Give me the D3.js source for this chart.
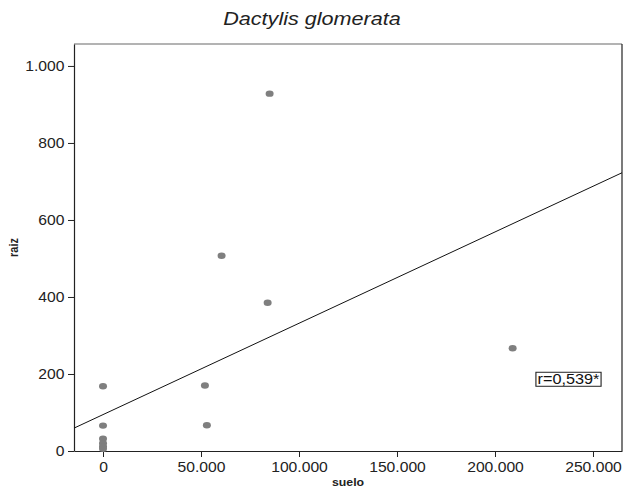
<!DOCTYPE html>
<html>
<head>
<meta charset="utf-8">
<script src="https://cdn.jsdelivr.net/npm/d3@7"></script>
<style>
  html, body { margin: 0; padding: 0; background: #fff; }
  svg { display: block; font-family: "Liberation Sans", Arial, sans-serif; }
</style>
</head>
<body>
<svg id="chart" width="625" height="490"></svg>
<script>
// Data
const suelo = [0, 0, 0, 0, 0, 0, 52000, 53000, 60500, 84000, 85000, 209000];
const raiz  = [168, 66, 32, 20, 12, 6, 170, 67, 507, 385, 928, 267];
const xTicks = [0, 50000, 100000, 150000, 200000, 250000];
const yTicks = [0, 200, 400, 600, 800, 1000];
const fitIntercept = 94.5;     // regression line intercept
const fitSlope = 0.002372;     // regression line slope
const rLabel = "r=0,539*";
const title = "Dactylis glomerata";
const xLabel = "suelo";
const yLabel = "raiz";

const SX = 1.12; // horizontal stretch of text seen in the reference
const svg = d3.select("#chart");
const m = { left: 74, right: 3, top: 44, bottom: 39 };
const W = 625, H = 490;

const x = d3.scaleLinear().domain([-14800, 264800]).range([m.left, W - m.right]);
const y = d3.scaleLinear().domain([0, 1057]).range([H - m.bottom, m.top]);

const fmt = v => d3.format(",")(v).replace(/,/g, ".");

// Frame: top gray, right dark
svg.append("line")
  .attr("x1", x.range()[0]).attr("x2", x.range()[1])
  .attr("y1", y.range()[1]).attr("y2", y.range()[1])
  .attr("stroke", "#9a9a9a").attr("stroke-width", 1.5);
svg.append("line")
  .attr("x1", x.range()[1]).attr("x2", x.range()[1])
  .attr("y1", y.range()[1]).attr("y2", y.range()[0])
  .attr("stroke", "#222").attr("stroke-width", 1.2);

// Axes
const xAxis = svg.append("g")
  .attr("transform", `translate(0,${y.range()[0]})`)
  .call(d3.axisBottom(x).tickValues(xTicks).tickFormat(fmt).tickSize(6).tickSizeOuter(0));
const yAxis = svg.append("g")
  .attr("transform", `translate(${x.range()[0]},0)`)
  .call(d3.axisLeft(y).tickValues(yTicks).tickFormat(fmt).tickSize(6).tickSizeOuter(0));

[xAxis, yAxis].forEach(g => {
  g.select(".domain").attr("stroke", "#222").attr("stroke-width", 1.2);
  g.selectAll(".tick line").attr("stroke", "#222");
  g.selectAll(".tick text")
    .attr("fill", "#222")
    .style("font-family", "'Liberation Sans', Arial, sans-serif")
    .style("font-size", "14px");
});
xAxis.selectAll(".tick text").attr("y", 8).attr("dy", "0.95em")
  .attr("transform", `scale(${SX},1)`);
yAxis.selectAll(".tick text").attr("x", -9.5 / SX)
  .attr("transform", `scale(${SX},1)`);

// Clip for regression line
svg.append("clipPath").attr("id", "clip")
  .append("rect")
  .attr("x", x.range()[0]).attr("y", y.range()[1])
  .attr("width", x.range()[1] - x.range()[0])
  .attr("height", y.range()[0] - y.range()[1]);

// Regression line
const [x0, x1] = x.domain();
svg.append("line")
  .attr("clip-path", "url(#clip)")
  .attr("x1", x(x0)).attr("y1", y(fitIntercept + fitSlope * x0))
  .attr("x2", x(x1)).attr("y2", y(fitIntercept + fitSlope * x1))
  .attr("stroke", "#111").attr("stroke-width", 1);

// Points
svg.append("g").selectAll("ellipse")
  .data(suelo.map((s, i) => ({ s, r: raiz[i] })))
  .join("ellipse")
  .attr("cx", d => x(d.s))
  .attr("cy", d => y(d.r))
  .attr("rx", 4).attr("ry", 3.2)
  .attr("fill", "#7f7f7f");

// r label box
const rg = svg.append("g")
  .attr("transform", `translate(${x(237500)},${y(186)}) scale(${SX},1)`);
const rBox = rg.append("rect");
const rText = rg.append("text")
  .attr("x", 0).attr("y", 0)
  .attr("text-anchor", "middle")
  .attr("font-size", "14.5px").attr("fill", "#111")
  .attr("dy", "0.35em")
  .text(rLabel);
const bb = rText.node().getBBox();
rBox.attr("x", bb.x - 1.5).attr("y", bb.y + 1)
  .attr("width", bb.width + 3).attr("height", bb.height - 2)
  .attr("fill", "#fff").attr("stroke", "#222").attr("stroke-width", 1);

// Title
svg.append("text")
  .attr("transform", `translate(312,25) scale(1.2,1)`)
  .attr("text-anchor", "middle")
  .attr("font-size", "18px").attr("font-style", "italic")
  .attr("fill", "#222")
  .text(title);

// Axis labels
svg.append("text")
  .attr("transform", `translate(${(x.range()[0] + x.range()[1]) / 2},486) scale(${SX},1)`)
  .attr("text-anchor", "middle")
  .attr("font-size", "11px").attr("font-weight", "bold")
  .attr("fill", "#222")
  .text(xLabel);
svg.append("text")
  .attr("transform", `translate(18,${(y.range()[0] + y.range()[1]) / 2}) rotate(-90) scale(1,${SX})`)
  .attr("text-anchor", "middle")
  .attr("font-size", "11px").attr("font-weight", "bold")
  .attr("fill", "#222")
  .text(yLabel);
</script>
</body>
</html>
